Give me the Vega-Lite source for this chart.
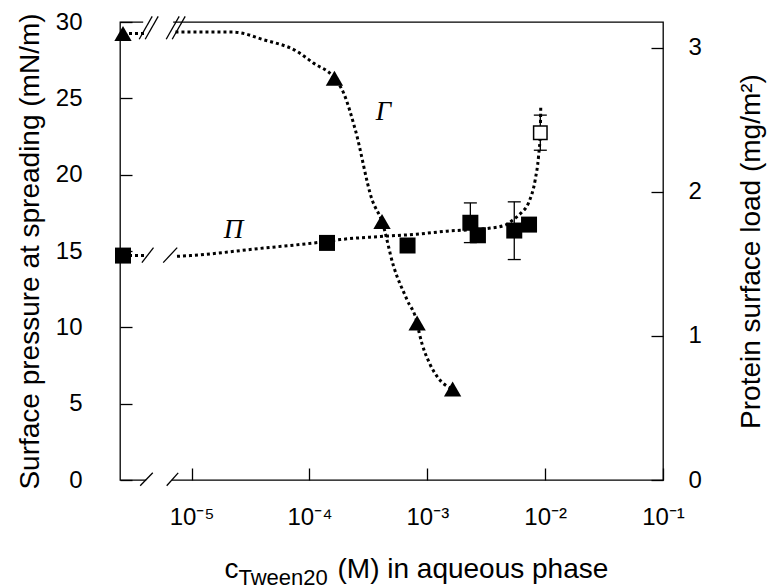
{
  "$schema": "https://vega.github.io/schema/vega-lite/v6.json",
  "width": 543,
  "height": 458,
  "autosize": "none",
  "padding": {"left": 120, "top": 22, "right": 107, "bottom": 108},
  "background": "white",
  "config": {
    "view": {"stroke": "black", "strokeWidth": 1.3},
    "font": "Liberation Sans",
    "axis": {"grid": false, "domain": false, "zindex": 1, "tickColor": "black", "tickWidth": 1.3, "labelColor": "black", "titleColor": "black", "labelFont": "Liberation Sans", "titleFont": "Liberation Sans", "labelFontSize": 24, "titleFontSize": 28, "titleFontWeight": "normal"}
  },
  "datasets": {
    "pi": [
      {"c": 0.000141, "pi": 15.53},
      {"c": 0.00068, "pi": 15.36},
      {"c": 0.00232, "pi": 16.85, "lo": 15.55, "hi": 18.15},
      {"c": 0.00269, "pi": 16.03},
      {"c": 0.00547, "pi": 16.34, "lo": 14.44, "hi": 18.22},
      {"c": 0.0073, "pi": 16.73}
    ],
    "piOpen": [{"c": 0.0091, "pi": 22.75, "lo": 21.6, "hi": 23.9}],
    "piCurve": [
      {"c": 0.00000752, "pi": 14.65},
      {"c": 0.00000975, "pi": 14.7},
      {"c": 0.0000383, "pi": 15.17},
      {"c": 0.000122, "pi": 15.57},
      {"c": 0.000183, "pi": 15.75},
      {"c": 0.000399, "pi": 15.95},
      {"c": 0.000809, "pi": 16.1},
      {"c": 0.00147, "pi": 16.3},
      {"c": 0.00343, "pi": 16.5},
      {"c": 0.00459, "pi": 16.7},
      {"c": 0.0054, "pi": 17.07},
      {"c": 0.00627, "pi": 17.5},
      {"c": 0.00724, "pi": 18.16},
      {"c": 0.00825, "pi": 19.7},
      {"c": 0.00879, "pi": 21.2},
      {"c": 0.00909, "pi": 22.75},
      {"c": 0.00918, "pi": 24.5}
    ],
    "gamma": [
      {"c": 0.000163, "g": 2.79},
      {"c": 0.000413, "g": 1.795},
      {"c": 0.00082, "g": 1.09},
      {"c": 0.00164, "g": 0.631}
    ],
    "gammaCurve": [
      {"c": 0.0000073, "g": 3.11},
      {"c": 0.0000226, "g": 3.11},
      {"c": 0.0000408, "g": 3.057},
      {"c": 0.0000783, "g": 2.976},
      {"c": 0.000108, "g": 2.895},
      {"c": 0.000163, "g": 2.79},
      {"c": 0.000195, "g": 2.687},
      {"c": 0.000245, "g": 2.432},
      {"c": 0.00034, "g": 1.946},
      {"c": 0.000413, "g": 1.795},
      {"c": 0.000518, "g": 1.483},
      {"c": 0.000673, "g": 1.251},
      {"c": 0.00082, "g": 1.09},
      {"c": 0.000855, "g": 1.02},
      {"c": 0.00106, "g": 0.8},
      {"c": 0.00121, "g": 0.719},
      {"c": 0.00164, "g": 0.631}
    ],
    "zeroPi": [{"c": 0, "pi": 14.7}],
    "zeroGamma": [{"c": 0, "g": 3.1}],
    "labels": [
      {"c": 0.000424, "pi": 24.08, "t": "Γ"},
      {"c": 0.0000227, "pi": 16.4, "t": "Π"}
    ]
  },
  "resolve": {"scale": {"x": "independent", "y": "independent"}},
  "layer": [
    {
      "layer": [
        {
          "data": {"name": "piCurve"},
          "mark": {"type": "line", "color": "black", "strokeWidth": 3, "strokeDash": [3, 3], "interpolate": "monotone"},
          "encoding": {
            "x": {"field": "c", "type": "quantitative", "scale": {"type": "log", "domain": [0.00000247, 0.1], "nice": false},
              "axis": {"orient": "bottom", "values": [0.00001, 0.0001, 0.001, 0.01, 0.1], "offset": -12, "tickSize": 12, "labelPadding": 25, "labelBaseline": "top",
                "labelExpr": "'10' + ['⁻¹','⁻²','⁻³','⁻⁴','⁻⁵','⁻⁶'][-round(log(datum.value)/LN10) - 1]",
                "labelFlush": false, "title": "(M) in aqueous phase", "titleX": 217, "titleY": 109, "titleAlign": "left", "titleBaseline": "alphabetic", "titleAnchor": null}},
            "y": {"field": "pi", "type": "quantitative", "scale": {"domain": [0, 30], "nice": false, "zero": false},
              "axis": {"orient": "left", "values": [0, 5, 10, 15, 20, 25, 30], "offset": -12, "tickSize": 12, "labelPadding": 38, "title": "Surface pressure at spreading (mN/m)", "titleX": -102, "titleY": 229, "titleAngle": 270, "titleAlign": "center", "titleBaseline": "middle", "titleAnchor": null}}
          }
        },
        {
          "data": {"name": "pi"},
          "mark": {"type": "rule", "color": "black", "strokeWidth": 1.3},
          "encoding": {
            "x": {"field": "c", "type": "quantitative"},
            "y": {"field": "lo", "type": "quantitative"},
            "y2": {"field": "hi"}
          }
        },
        {
          "data": {"name": "pi"},
          "mark": {"type": "tick", "color": "black", "orient": "horizontal", "size": 13, "thickness": 1.3, "opacity": 1},
          "encoding": {
            "x": {"field": "c", "type": "quantitative"},
            "y": {"field": "lo", "type": "quantitative"}
          }
        },
        {
          "data": {"name": "pi"},
          "mark": {"type": "tick", "color": "black", "orient": "horizontal", "size": 13, "thickness": 1.3, "opacity": 1},
          "encoding": {
            "x": {"field": "c", "type": "quantitative"},
            "y": {"field": "hi", "type": "quantitative"}
          }
        },
        {
          "data": {"name": "piOpen"},
          "mark": {"type": "rule", "color": "black", "strokeWidth": 1.3},
          "encoding": {
            "x": {"field": "c", "type": "quantitative"},
            "y": {"field": "lo", "type": "quantitative"},
            "y2": {"field": "hi"}
          }
        },
        {
          "data": {"name": "piOpen"},
          "mark": {"type": "tick", "color": "black", "orient": "horizontal", "size": 13, "thickness": 1.3, "opacity": 1},
          "encoding": {
            "x": {"field": "c", "type": "quantitative"},
            "y": {"field": "lo", "type": "quantitative"}
          }
        },
        {
          "data": {"name": "piOpen"},
          "mark": {"type": "tick", "color": "black", "orient": "horizontal", "size": 13, "thickness": 1.3, "opacity": 1},
          "encoding": {
            "x": {"field": "c", "type": "quantitative"},
            "y": {"field": "hi", "type": "quantitative"}
          }
        },
        {
          "data": {"name": "pi"},
          "mark": {"type": "point", "shape": "square", "filled": true, "color": "black", "size": 256, "opacity": 1},
          "encoding": {
            "x": {"field": "c", "type": "quantitative"},
            "y": {"field": "pi", "type": "quantitative"}
          }
        },
        {
          "data": {"name": "piOpen"},
          "mark": {"type": "point", "shape": "square", "filled": true, "fill": "white", "stroke": "black", "strokeWidth": 1.5, "size": 180, "opacity": 1},
          "encoding": {
            "x": {"field": "c", "type": "quantitative"},
            "y": {"field": "pi", "type": "quantitative"}
          }
        },
        {
          "data": {"name": "labels"},
          "mark": {"type": "text", "font": "Liberation Serif", "fontStyle": "italic", "fontSize": 27, "color": "black", "align": "center", "baseline": "middle"},
          "encoding": {
            "x": {"field": "c", "type": "quantitative"},
            "y": {"field": "pi", "type": "quantitative"},
            "text": {"field": "t"}
          }
        }
      ]
    },
    {
      "layer": [
        {
          "data": {"name": "gammaCurve"},
          "mark": {"type": "line", "color": "black", "strokeWidth": 3, "strokeDash": [3, 3], "interpolate": "monotone"},
          "encoding": {
            "x": {"field": "c", "type": "quantitative", "scale": {"type": "log", "domain": [0.00000247, 0.1], "nice": false}, "axis": null},
            "y": {"field": "g", "type": "quantitative", "scale": {"domain": [0, 3.18], "nice": false, "zero": false},
              "axis": {"orient": "right", "values": [0, 1, 2, 3], "format": "d", "offset": -12, "tickSize": 12, "labelPadding": 25, "title": "Protein surface load (mg/m²)", "titleX": 100, "titleY": 229, "titleAngle": 270, "titleAlign": "center", "titleBaseline": "middle", "titleAnchor": null}}
          }
        },
        {
          "data": {"name": "gamma"},
          "mark": {"type": "point", "shape": "triangle-up", "filled": true, "color": "black", "size": 300, "opacity": 1},
          "encoding": {
            "x": {"field": "c", "type": "quantitative"},
            "y": {"field": "g", "type": "quantitative"}
          }
        }
      ]
    },
    {
      "layer": [
        {
          "data": {"name": "zeroPi"},
          "mark": {"type": "rule", "color": "black", "strokeWidth": 3, "strokeDash": [3, 3]},
          "encoding": {
            "x": {"field": "c", "type": "quantitative", "scale": {"domain": [-1, 180], "nice": false, "zero": false},
              "axis": {"orient": "bottom", "labels": false, "ticks": false, "domain": false, "title": "c", "titleX": 104, "titleY": 97, "titleAlign": "left", "titleBaseline": "alphabetic", "titleAnchor": null}},
            "x2": {"datum": 7},
            "y": {"field": "pi", "type": "quantitative", "scale": {"domain": [0, 30], "nice": false, "zero": false}, "axis": null}
          }
        },
        {
          "data": {"name": "zeroPi"},
          "mark": {"type": "point", "shape": "square", "filled": true, "color": "black", "size": 256, "opacity": 1},
          "encoding": {
            "x": {"field": "c", "type": "quantitative"},
            "y": {"field": "pi", "type": "quantitative"}
          }
        },
        {
          "data": {"values": [{}]},
          "mark": {"type": "rect", "color": "white"},
          "encoding": {
            "x": {"datum": 7.73, "type": "quantitative"}, "x2": {"datum": 16.23},
            "y": {"datum": -0.15, "type": "quantitative"}, "y2": {"datum": 0.15}
          }
        },
        {
          "data": {"values": [{}]},
          "mark": {"type": "rect", "color": "white"},
          "encoding": {
            "x": {"datum": 6.73, "type": "quantitative"}, "x2": {"datum": 16.73},
            "y": {"datum": 29.85, "type": "quantitative"}, "y2": {"datum": 30.15}
          }
        },
        {
          "data": {"values": [{}]},
          "mark": {"type": "rule", "color": "black", "strokeWidth": 1.3},
          "encoding": {"x": {"datum": 5.73, "type": "quantitative"}, "x2": {"datum": 9.93}, "y": {"datum": -0.38, "type": "quantitative"}, "y2": {"datum": 0.47}}
        },
        {
          "data": {"values": [{}]},
          "mark": {"type": "rule", "color": "black", "strokeWidth": 1.3},
          "encoding": {"x": {"datum": 14.57, "type": "quantitative"}, "x2": {"datum": 18.4}, "y": {"datum": -0.38, "type": "quantitative"}, "y2": {"datum": 0.47}}
        },
        {
          "data": {"values": [{}]},
          "mark": {"type": "rule", "color": "black", "strokeWidth": 1.3},
          "encoding": {"x": {"datum": 6.3, "type": "quantitative"}, "x2": {"datum": 10.17}, "y": {"datum": 14.24, "type": "quantitative"}, "y2": {"datum": 15.22}}
        },
        {
          "data": {"values": [{}]},
          "mark": {"type": "rule", "color": "black", "strokeWidth": 1.3},
          "encoding": {"x": {"datum": 13.4, "type": "quantitative"}, "x2": {"datum": 18.07}, "y": {"datum": 14.24, "type": "quantitative"}, "y2": {"datum": 15.22}}
        },
        {
          "data": {"values": [{}]},
          "mark": {"type": "rule", "color": "black", "strokeWidth": 1.3},
          "encoding": {"x": {"datum": 5.4, "type": "quantitative"}, "x2": {"datum": 9.73}, "y": {"datum": 28.87, "type": "quantitative"}, "y2": {"datum": 30.37}}
        },
        {
          "data": {"values": [{}]},
          "mark": {"type": "rule", "color": "black", "strokeWidth": 1.3},
          "encoding": {"x": {"datum": 7.4, "type": "quantitative"}, "x2": {"datum": 11.73}, "y": {"datum": 28.87, "type": "quantitative"}, "y2": {"datum": 30.37}}
        },
        {
          "data": {"values": [{}]},
          "mark": {"type": "rule", "color": "black", "strokeWidth": 1.3},
          "encoding": {"x": {"datum": 14.4, "type": "quantitative"}, "x2": {"datum": 18.73}, "y": {"datum": 28.87, "type": "quantitative"}, "y2": {"datum": 30.37}}
        },
        {
          "data": {"values": [{}]},
          "mark": {"type": "rule", "color": "black", "strokeWidth": 1.3},
          "encoding": {"x": {"datum": 16.4, "type": "quantitative"}, "x2": {"datum": 20.73}, "y": {"datum": 28.87, "type": "quantitative"}, "y2": {"datum": 30.37}}
        }
      ]
    },
    {
      "layer": [
        {
          "data": {"name": "zeroGamma"},
          "mark": {"type": "rule", "color": "black", "strokeWidth": 3, "strokeDash": [3, 3]},
          "encoding": {
            "x": {"field": "c", "type": "quantitative", "scale": {"domain": [-1, 180], "nice": false, "zero": false},
              "axis": {"orient": "bottom", "labels": false, "ticks": false, "domain": false, "title": "Tween20", "titleFontSize": 22, "titleX": 118, "titleY": 104, "titleAlign": "left", "titleBaseline": "alphabetic", "titleAnchor": null}},
            "x2": {"datum": 7},
            "y": {"field": "g", "type": "quantitative", "scale": {"domain": [0, 3.18], "nice": false, "zero": false}, "axis": null}
          }
        },
        {
          "data": {"name": "zeroGamma"},
          "mark": {"type": "point", "shape": "triangle-up", "filled": true, "color": "black", "size": 300, "opacity": 1},
          "encoding": {
            "x": {"field": "c", "type": "quantitative"},
            "y": {"field": "g", "type": "quantitative"}
          }
        }
      ]
    }
  ]
}
